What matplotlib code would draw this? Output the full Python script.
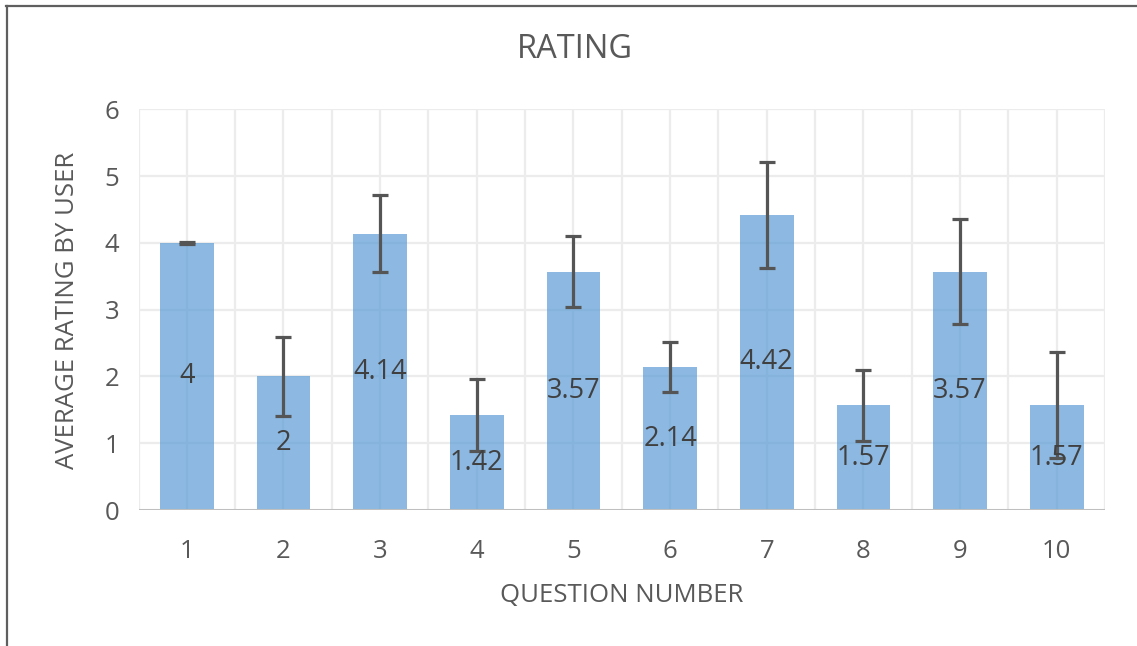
import matplotlib
matplotlib.use("Agg")
import matplotlib.pyplot as plt
from matplotlib.lines import Line2D

questions = [1, 2, 3, 4, 5, 6, 7, 8, 9, 10]
ratings = [4, 2, 4.14, 1.42, 3.57, 2.14, 4.42, 1.57, 3.57, 1.57]
errors = [0.02, 0.59, 0.57, 0.54, 0.53, 0.38, 0.79, 0.53, 0.79, 0.79]
labels = ["4", "2", "4.14", "1.42", "3.57", "2.14", "4.42", "1.57", "3.57", "1.57"]

plt.rcParams["font.family"] = ["Open Sans", "DejaVu Sans"]

W, H = 1137, 646
fig = plt.figure(figsize=(W / 100, H / 100), dpi=100)
ax = fig.add_axes([138.5 / W, 1 - 510 / H, (1105 - 138.5) / W, (510 - 109.3) / H])

grid_c = "#ECECEC"
text_c = "#595959"

# gridlines: horizontal at each unit, vertical at category centres and edges
for y in range(1, 7):
    ax.axhline(y, color=grid_c, lw=1.6, zorder=0)
for i in range(21):
    ax.axvline(0.5 + i * 0.5, color=grid_c, lw=1.6, zorder=0)

ax.bar(questions, ratings, width=0.556, color="#5B9BD5", alpha=0.7, zorder=2)
ax.errorbar(questions, ratings, yerr=errors, fmt="none", ecolor="#555555",
            elinewidth=2.3, capsize=5.5, capthick=2.3, zorder=3)

for q, r, lab in zip(questions, ratings, labels):
    ax.text(q, r / 2, lab, ha="center", va="center", fontsize=19.5,
            color="#404040", zorder=4)

ax.axhline(0, color="#BFBFBF", lw=2.2, zorder=3)

ax.set_xlim(0.5, 10.5)
ax.set_ylim(0, 6)
ax.set_xticks(questions)
ax.set_yticks(range(7))
ax.tick_params(axis="x", length=0, pad=21, labelsize=18.5, labelcolor=text_c)
ax.tick_params(axis="y", length=0, pad=14, labelsize=18.5, labelcolor=text_c)
for s in ax.spines.values():
    s.set_visible(False)

fig.text(622 / W, 1 - 595 / H, "QUESTION NUMBER", ha="center", va="center",
         fontsize=18.5, color=text_c)
fig.text(68 / W, 1 - 310 / H, "AVERAGE RATING BY USER", ha="center", va="center",
         rotation=90, fontsize=18.5, color=text_c)
fig.text(575 / W, 1 - 50 / H, "RATING", ha="center", va="center",
         fontsize=23.5, color=text_c)

# outer chart border (top and left edges visible)
fig.add_artist(Line2D([6 / W, 1], [1 - 6 / H, 1 - 6 / H], color="#5F5F5F",
                      lw=1.6, transform=fig.transFigure))
fig.add_artist(Line2D([7 / W, 7 / W], [0, 1 - 6 / H], color="#5F5F5F",
                      lw=1.6, transform=fig.transFigure))

fig.savefig("out.png", dpi=100)
